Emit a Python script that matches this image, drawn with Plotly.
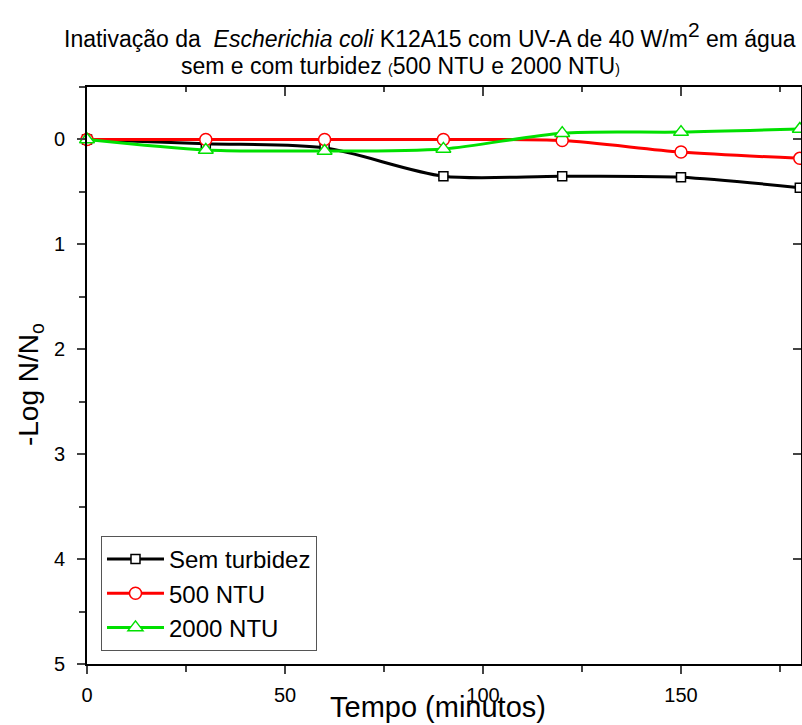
import plotly.graph_objects as go

tempo = [0, 30, 60, 90, 120, 150, 180]
sem_turbidez = [0.0, 0.04, 0.08, 0.35, 0.35, 0.36, 0.46]
ntu_500 = [0.0, 0.0, 0.0, 0.0, 0.01, 0.12, 0.18]
ntu_2000 = [0.0, 0.10, 0.11, 0.09, -0.06, -0.07, -0.10]

y_ticks = [0, 1, 2, 3, 4, 5]
x_ticks = [0, 50, 100, 150]

FONT = "Liberation Sans, Arial, sans-serif"

fig = go.Figure()
series = [
    ("Sem turbidez", sem_turbidez, "black", "square", 9),
    ("500 NTU", ntu_500, "red", "circle", 12),
    ("2000 NTU", ntu_2000, "#00e000", "triangle-up", 13),
]
for name, vals, col, sym, sz in series:
    fig.add_trace(go.Scatter(
        x=tempo, y=vals, name=name, mode="lines+markers",
        line=dict(color=col, width=3, shape="spline", smoothing=0.8),
        marker=dict(symbol=sym, size=sz, color="white", line=dict(color=col, width=1.5)),
        cliponaxis=False,
    ))

axis_common = dict(showline=True, linecolor="black", linewidth=2, showgrid=False,
                   zeroline=False, automargin=False)

fig.update_layout(
    width=802, height=725,
    margin=dict(l=87, r=1, t=87, b=61),
    paper_bgcolor="white", plot_bgcolor="white",
    font=dict(family=FONT, color="black", size=20),
    showlegend=True,
    legend=dict(
        x=0.0196, y=0.222, xanchor="left", yanchor="top",
        bordercolor="#555555", borderwidth=1, bgcolor="white",
        font=dict(size=24, family=FONT), itemwidth=57,
        tracegroupgap=0,
    ),
    xaxis=dict(
        range=[0, 180.3], tickvals=x_ticks, ticks="outside", ticklen=8, tickwidth=2,
        minor=dict(dtick=25, tick0=0, ticks="outside", ticklen=6, tickwidth=2, showgrid=False),
        tickfont=dict(size=20), ticklabelstandoff=4, **axis_common,
    ),
    xaxis2=dict(
        range=[0, 180.3], overlaying="x", side="top", tickvals=x_ticks, ticks="inside", ticklen=9,
        tickwidth=2, showticklabels=False,
        minor=dict(dtick=25, tick0=0, ticks="inside", ticklen=5, tickwidth=2, showgrid=False),
        **axis_common,
    ),
    yaxis=dict(
        range=[5, -0.5], tickvals=y_ticks, ticks="outside", ticklen=8, tickwidth=2,
        minor=dict(dtick=0.5, tick0=0, ticks="outside", ticklen=6, tickwidth=2, showgrid=False),
        tickfont=dict(size=20), ticklabelstandoff=8, **axis_common,
    ),
    yaxis2=dict(
        range=[5, -0.5], overlaying="y", side="right", showticklabels=False,
        ticks="inside", tickvals=y_ticks, ticklen=8, tickwidth=2, **axis_common,
    ),
    annotations=[
        dict(text="Inativação da  <i>Escherichia coli</i> K12A15 com UV-A de 40 W/m<sup><span style='font-size:21px'>2</span></sup> em água",
             xref="paper", yref="paper", x=0.4804, y=1.09, xanchor="center", yanchor="middle",
             showarrow=False, font=dict(size=23, family=FONT)),
        dict(text="sem e com turbidez <span style='font-size:14px'>(</span>500 NTU e 2000 NTU<span style='font-size:14px'>)</span>",
             xref="paper", yref="paper", x=0.4384, y=1.0364, xanchor="center", yanchor="middle",
             showarrow=False, font=dict(size=23, family=FONT)),
        dict(text="Tempo (minutos)", xref="paper", yref="paper", x=0.491, y=-0.0745,
             xanchor="center", yanchor="middle", showarrow=False, font=dict(size=29, family=FONT)),
        dict(text="-Log N/N<sub>o</sub>", xref="paper", yref="paper", x=-0.0798, y=0.4835,
             xanchor="center", yanchor="middle", textangle=-90, showarrow=False,
             font=dict(size=28, family=FONT)),
    ],
)
fig.add_trace(go.Scatter(x=[None], y=[None], xaxis="x2", yaxis="y2", showlegend=False, hoverinfo="skip"))

fig.write_html(
    "out.html",
    config={"displayModeBar": False},
    post_script="document.body.style.margin='0';document.body.style.overflow='hidden';"
                "document.documentElement.style.overflow='hidden';",
)
